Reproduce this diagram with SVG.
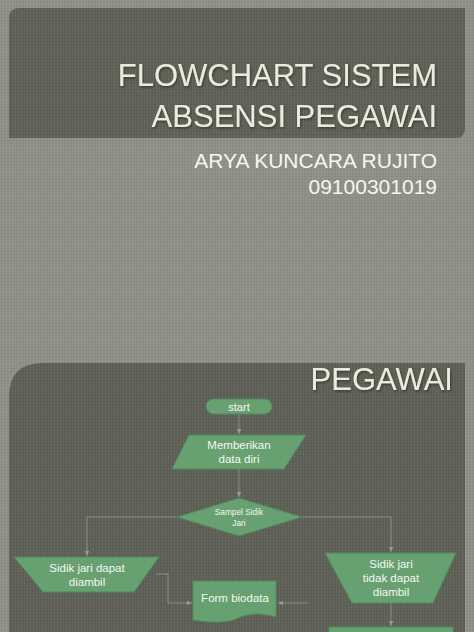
<svg xmlns="http://www.w3.org/2000/svg" width="474" height="632" viewBox="0 0 474 632">
<defs>
<pattern id="tex" width="3" height="3" patternUnits="userSpaceOnUse">
<rect width="1" height="3" fill="#ffffff" opacity="0.06"/>
<rect y="2" width="3" height="1" fill="#000000" opacity="0.04"/>
</pattern>
<filter id="sh" x="-10%" y="-10%" width="120%" height="130%">
<feDropShadow dx="1" dy="1.5" stdDeviation="0.8" flood-color="#2e3029" flood-opacity="0.8"/>
</filter>
<marker id="arr" markerWidth="6" markerHeight="6" refX="5" refY="3" orient="auto" markerUnits="userSpaceOnUse">
<path d="M0,0.8 L5,3 L0,5.2 Z" fill="#8fa08b"/>
</marker>
<style>
.title{font-family:"Liberation Sans",Arial,sans-serif;fill:#ecebdb;text-anchor:end}
.sub{font-family:"Liberation Sans",Arial,sans-serif;fill:#f6f6f0;text-anchor:end}
.node{fill:#67a071;stroke:#4f8a5c;stroke-width:1}
.lbl{font-family:"Liberation Sans",Arial,sans-serif;fill:#f6f8f2;text-anchor:middle}
.con{fill:none;stroke:#8fa08b;stroke-width:0.8}
</style>
</defs>
<rect width="474" height="632" fill="#8e9086"/>
<rect width="474" height="632" fill="url(#tex)"/>
<!-- title banner -->
<path d="M19,8 H465 V128 Q465,138 455,138 H9 V18 Q9,8 19,8 Z" fill="#5f6157"/>
<path d="M19,8 H465 V128 Q465,138 455,138 H9 V18 Q9,8 19,8 Z" fill="url(#tex)"/>
<g filter="url(#sh)">
<text class="title" x="437" y="86" font-size="31">FLOWCHART SISTEM</text>
<text class="title" x="437" y="127" font-size="31">ABSENSI PEGAWAI</text>
</g>
<text class="sub" x="437" y="168" font-size="21">ARYA KUNCARA RUJITO</text>
<text class="sub" x="437" y="194" font-size="21">09100301019</text>
<!-- second panel -->
<path d="M43,363 H465 V632 H9 V397 Q9,363 43,363 Z" fill="#5e6056"/>
<path d="M43,363 H465 V632 H9 V397 Q9,363 43,363 Z" fill="url(#tex)"/>
<text class="title" x="453" y="390" font-size="31" filter="url(#sh)">PEGAWAI</text>
<g id="connectors">
<path class="con" d="M239,414 V434" marker-end="url(#arr)"/>
<path class="con" d="M239,469 V497" marker-end="url(#arr)"/>
<path class="con" d="M177,517 H87 V556" marker-end="url(#arr)"/>
<path class="con" d="M302,517 H391 V552" marker-end="url(#arr)"/>
<path class="con" d="M156,574 H168 V603 H192" marker-end="url(#arr)"/>
<path class="con" d="M308,603 H278" marker-end="url(#arr)"/>
<path class="con" d="M391,603 V626" marker-end="url(#arr)"/>
</g>
<g id="start">
<rect class="node" x="206" y="399" width="66" height="15" rx="7.5"/>
<text class="lbl" x="239" y="410.5" font-size="11">start</text>
</g>
<g id="input-data">
<polygon class="node" points="189,435 306,435 284,469 172,469"/>
<text class="lbl" x="239" y="449" font-size="11.5">Memberikan</text>
<text class="lbl" x="239" y="463" font-size="11.5">data diri</text>
</g>
<g id="decision">
<polygon class="node" points="239,498 302,517 239,536 177,517"/>
<text class="lbl" x="239" y="515" font-size="8.3">Sampel Sidik</text>
<text class="lbl" x="239" y="526" font-size="8.3">Jari</text>
</g>
<g id="dapat">
<polygon class="node" points="14,557 159,557 134,592 43,592"/>
<text class="lbl" x="87" y="572" font-size="11.5">Sidik jari dapat</text>
<text class="lbl" x="87" y="586" font-size="11.5">diambil</text>
</g>
<g id="tidak-dapat">
<polygon class="node" points="325,553 456,553 433,603 352,603"/>
<text class="lbl" x="391" y="568" font-size="11.5">Sidik jari</text>
<text class="lbl" x="391" y="582" font-size="11.5">tidak dapat</text>
<text class="lbl" x="391" y="596" font-size="11.5">diambil</text>
</g>
<g id="form-biodata">
<path class="node" d="M193,581 H276 V617 C258,612 246,614 236,619 C226,623 210,623 193,620 Z"/>
<text class="lbl" x="235" y="602" font-size="11.5">Form biodata</text>
</g>
<g id="next-box">
<rect class="node" x="329" y="627" width="124" height="10"/>
</g>
</svg>
